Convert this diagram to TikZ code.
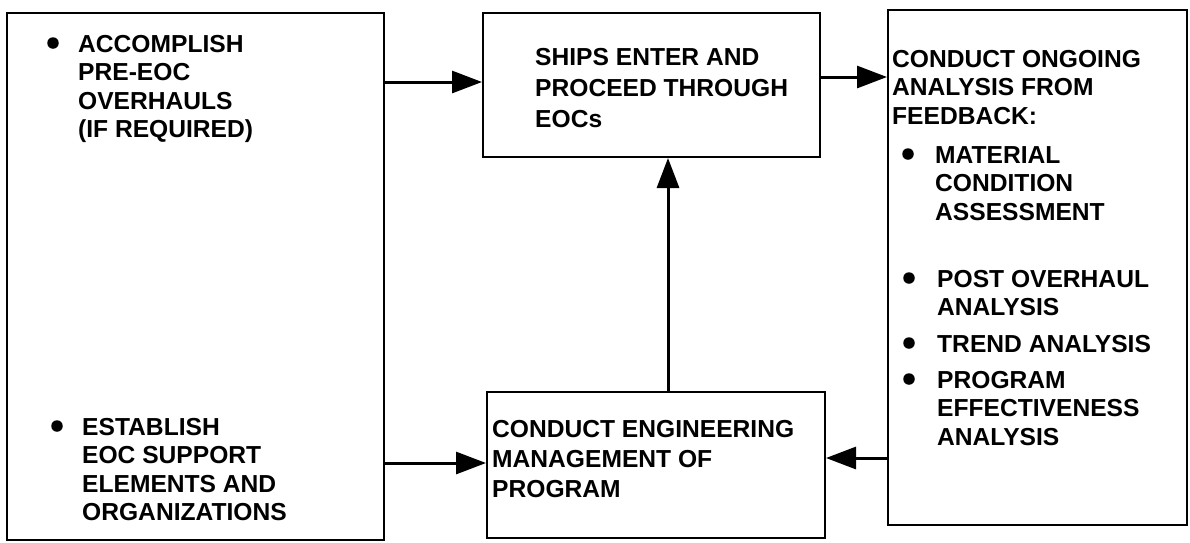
\documentclass[tikz,border=0pt]{standalone}
\usepackage{fontspec}
\setmainfont{Liberation Sans}
\usetikzlibrary{arrows.meta}
\begin{document}
\begin{tikzpicture}[x=1pt,y=-1pt,
  box/.style={draw, line width=2pt, inner sep=0pt},
  txt/.style={anchor=base west, align=left, inner sep=0pt, font=\fontsize{24.6}{#1}\selectfont\bfseries},
  txt/.default=28.5,
  dot/.style={circle, fill, inner sep=0pt, minimum size=11.5pt},
  arr/.style={line width=3pt, -{Triangle[length=30pt,width=22pt]}}]
\useasboundingbox (0,0) rectangle (1190,542);
% boxes
\node[box, minimum width=377pt, minimum height=527pt] (lb) at (195.5,276.5) {};
\node[box, minimum width=337pt, minimum height=144pt] (tm) at (651.5,85) {};
\node[box, minimum width=299pt, minimum height=515pt] (rb) at (1037.5,267.5) {};
\node[box, minimum width=338pt, minimum height=146pt] (bm) at (656,465) {};
% left box texts (anchor = baseline of last line)
\node[dot] (d1) at (53,43) {};
\node[txt] (t1) at (78,137.5) {ACCOMPLISH\\PRE-EOC\\OVERHAULS\\(IF REQUIRED)};
\node[dot] (d2) at (57,426) {};
\node[txt] (t2) at (82,520.5) {ESTABLISH\\EOC SUPPORT\\ELEMENTS AND\\ORGANIZATIONS};
% middle texts
\node[txt=31] (t3) at (535,127) {SHIPS ENTER AND\\PROCEED THROUGH\\EOCs};
\node[txt=30] (t4) at (492,497) {CONDUCT ENGINEERING\\MANAGEMENT OF\\PROGRAM};
% right box texts
\node[txt] (t5) at (892,124) {CONDUCT ONGOING\\ANALYSIS FROM\\FEEDBACK:};
\node[dot] (d3) at (908,154) {};
\node[txt] (t6) at (935,220) {MATERIAL\\CONDITION\\ASSESSMENT};
\node[dot] (d4) at (909,278) {};
\node[txt] (t7) at (937,315.5) {POST OVERHAUL\\ANALYSIS};
\node[dot] (d5) at (909,343) {};
\node[txt] (t8) at (937,352) {TREND ANALYSIS};
\node[dot] (d6) at (909,379) {};
\node[txt] (t9) at (937,445) {PROGRAM\\EFFECTIVENESS\\ANALYSIS};
% connectors
\draw[arr] ([yshift=3pt]lb.east |- tm.west) -- ([yshift=3pt]tm.west);
\draw[arr] ([yshift=2pt]lb.east |- bm.west) -- ([yshift=2pt]bm.west);
\draw[arr] ([yshift=8pt]tm.east) -- ([yshift=8pt]tm.east -| rb.west);
\draw[arr] ([yshift=7pt]rb.west |- bm.east) -- ([yshift=7pt]bm.east);
\draw[arr] ([xshift=12pt]bm.north) -- ([xshift=12pt]bm.north |- tm.south);
\end{tikzpicture}
\end{document}
